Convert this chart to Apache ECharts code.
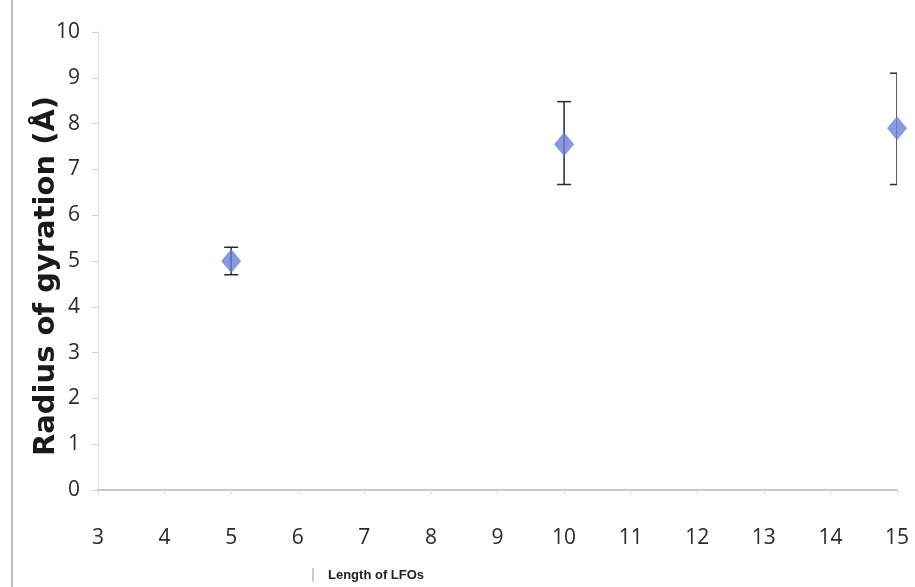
<!DOCTYPE html>
<html>
<head>
<meta charset="utf-8">
<script src="https://cdn.jsdelivr.net/npm/echarts@6/dist/echarts.min.js"></script>
<style>
  html, body { margin: 0; padding: 0; background: #fff; }
  #chart { width: 915px; height: 587px; }
</style>
</head>
<body>
<div id="chart"></div>
<script>
// lengths of LFOs and radius of gyration (Å)
var lengths = [5, 10, 15];
var radius = [5.0, 7.55, 7.9];
var errLow = [4.7, 6.67, 6.67];
var errHigh = [5.3, 8.48, 9.1];

var points = lengths.map(function (x, i) { return [x, radius[i]]; });
var bars = lengths.map(function (x, i) { return [x, errLow[i], errHigh[i]]; });

var chart = echarts.init(document.getElementById('chart'));

var options = {
    backgroundColor: '#fff',
    animation: false,
    grid: { left: 98, right: 18, top: 32, bottom: 97 },
    xAxis: {
        type: 'value',
        min: 3, max: 15, interval: 1,
        axisLine: { lineStyle: { color: '#b8b8b8', width: 1.5 } },
        axisTick: { show: true, length: 4, lineStyle: { color: '#d8d8d8' } },
        splitLine: { show: false },
        axisLabel: { color: '#2a2a2a', fontSize: 21, fontFamily: 'Open Sans', margin: 38 }
    },
    yAxis: {
        type: 'value',
        min: 0, max: 10, interval: 1,
        name: 'Radius of gyration (Å)',
        nameLocation: 'middle',
        nameGap: 37,
        nameMoveOverlap: false,
        nameTextStyle: { color: '#1a1a1a', fontSize: 29, fontWeight: 'bold', fontFamily: 'DejaVu Sans', padding: [0, 30, 0, 0] },
        axisLine: { show: true, lineStyle: { color: '#e4e4e4' } },
        axisTick: { show: true, length: 6, lineStyle: { color: '#d0d0d0' } },
        splitLine: { show: false },
        axisLabel: { color: '#2a2a2a', fontSize: 21, fontFamily: 'Open Sans', margin: 18 }
    },
    graphic: [
        { type: 'line', shape: { x1: 12, y1: 0, x2: 12, y2: 587 }, style: { stroke: '#aaa', lineWidth: 1.5 } },
        { type: 'line', shape: { x1: 313, y1: 568, x2: 313, y2: 582 }, style: { stroke: '#999', lineWidth: 1 } },
        { type: 'text', left: 328, top: 569, style: { text: 'Length of LFOs', fill: '#222', font: 'bold 13px "Liberation Sans"' } }
    ],
    series: [
        {
            type: 'custom',
            clip: true,
            data: bars,
            renderItem: function (params, api) {
                var x = api.value(0);
                var lo = api.coord([x, api.value(1)]);
                var hi = api.coord([x, api.value(2)]);
                var w = 7;
                var st = { stroke: '#2a2a2a', lineWidth: 1.5 };
                return {
                    type: 'group',
                    children: [
                        { type: 'line', shape: { x1: lo[0], y1: lo[1], x2: hi[0], y2: hi[1] }, style: st },
                        { type: 'line', shape: { x1: hi[0] - w, y1: hi[1], x2: hi[0] + w, y2: hi[1] }, style: st },
                        { type: 'line', shape: { x1: lo[0] - w, y1: lo[1], x2: lo[0] + w, y2: lo[1] }, style: st }
                    ]
                };
            },
            z: 1
        },
        {
            type: 'scatter',
            data: points,
            symbol: 'diamond',
            symbolSize: [20, 24],
            clip: false,
            itemStyle: { color: '#6b7fd7' },
            z: 2
        }
    ]
};

chart.setOption(options);
</script>
</body>
</html>
